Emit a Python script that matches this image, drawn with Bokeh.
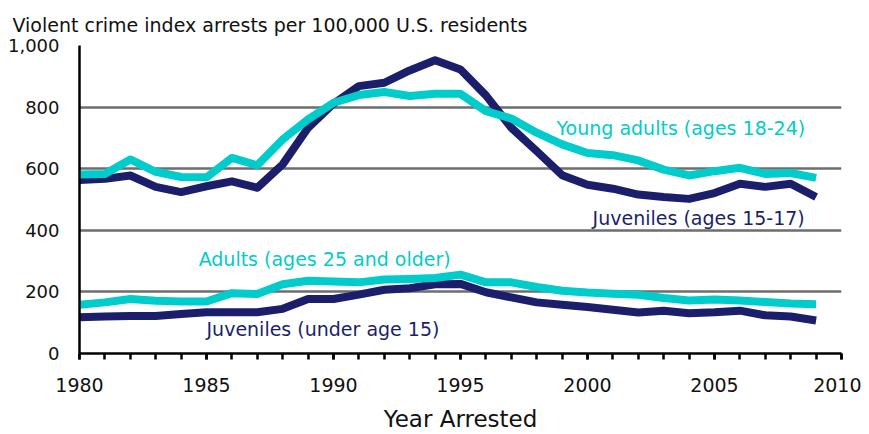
from bokeh.plotting import figure
from bokeh.models import FixedTicker, NumeralTickFormatter, Range1d, Title
from bokeh.core.properties import value
from bokeh.embed import file_html
from bokeh.resources import INLINE

years = list(range(1980, 2010))

juveniles_15_17 = [563, 567, 578, 541, 524, 543, 559, 538, 614, 733, 811, 868, 879, 919, 952,
                   922, 838, 733, 657, 579, 548, 535, 516, 508, 502, 521, 551, 541, 551, 508]
young_adults_18_24 = [581, 583, 630, 590, 573, 572, 635, 611, 695, 760, 814, 839, 849, 836, 843,
                      843, 787, 763, 717, 679, 651, 644, 627, 597, 578, 592, 603, 583, 586, 570]
adults_25_plus = [158, 166, 177, 171, 169, 169, 196, 193, 225, 236, 234, 231, 240, 242, 245,
                  256, 231, 231, 216, 204, 198, 194, 191, 180, 172, 175, 172, 167, 162, 160]
juveniles_under_15 = [118, 120, 122, 122, 128, 134, 134, 134, 145, 177, 177, 191, 207, 212, 225,
                      226, 199, 182, 166, 158, 151, 142, 133, 139, 131, 134, 139, 124, 120, 107]

x_major_ticks = [1980, 1985, 1990, 1995, 2000, 2005, 2010]
y_ticks = [0, 200, 400, 600, 800, 1000]

NAVY = "#1b1f6b"
CYAN = "#00cccc"
FONT = "DejaVu Sans"

p = figure(width=861, height=434, output_backend="svg", toolbar_location=None,
           x_range=Range1d(1980, 2010), y_range=Range1d(0, 1000),
           min_border_left=79, min_border_right=20, min_border_top=45, min_border_bottom=81)
p.outline_line_color = None
p.background_fill_color = "white"

t = Title(text="Violent crime index arrests per 100,000 U.S. residents", align="left",
          offset=-67, text_font=FONT, text_font_size="19px", text_font_style="normal",
          text_color="#111111", standoff=20)
p.add_layout(t, "above")

# grid
p.xgrid.grid_line_color = None
p.ygrid.ticker = FixedTicker(ticks=y_ticks)
p.ygrid.grid_line_color = "#6e6e6e"
p.ygrid.grid_line_width = 2.5

# axes
p.xaxis.ticker = FixedTicker(ticks=x_major_ticks, minor_ticks=list(range(1980, 2011)))
p.xaxis.axis_line_color = "black"
p.xaxis.axis_line_width = 2.5
p.xaxis.major_tick_line_color = "black"
p.xaxis.major_tick_line_width = 2.5
p.xaxis.minor_tick_line_color = "black"
p.xaxis.minor_tick_line_width = 2.5
p.xaxis.major_tick_in = 0
p.xaxis.major_tick_out = 6
p.xaxis.minor_tick_in = 0
p.xaxis.minor_tick_out = 6
p.xaxis.major_label_text_font = FONT
p.xaxis.major_label_text_font_size = "19px"
p.xaxis.major_label_text_color = "#111111"
p.xaxis.major_label_standoff = 18
p.xaxis.axis_label = "Year Arrested"
p.xaxis.axis_label_text_font = FONT
p.xaxis.axis_label_text_font_size = "23px"
p.xaxis.axis_label_text_font_style = "normal"
p.xaxis.axis_label_text_color = "#111111"
p.xaxis.axis_label_standoff = 11

p.yaxis.ticker = FixedTicker(ticks=y_ticks)
p.yaxis.formatter = NumeralTickFormatter(format="0,0")
p.yaxis.axis_line_color = "black"
p.yaxis.axis_line_width = 2.5
p.yaxis.major_tick_out = 0
p.yaxis.major_tick_in = 0
p.yaxis.minor_tick_line_color = None
p.yaxis.major_label_text_font = FONT
p.yaxis.major_label_text_font_size = "18px"
p.yaxis.major_label_text_color = "#111111"
p.yaxis.major_label_standoff = 20

lw = 8
p.line(years, juveniles_15_17, line_color=NAVY, line_width=lw, line_join="round")
p.line(years, juveniles_under_15, line_color=NAVY, line_width=lw, line_join="round")
p.line(years, young_adults_18_24, line_color=CYAN, line_width=lw, line_join="round")
p.line(years, adults_25_plus, line_color=CYAN, line_width=lw, line_join="round")

label_fs = "19px"
p.text(x=[1998.78], y=[732], text=["Young adults (ages 18-24)"], text_color=CYAN,
       text_font=value(FONT), text_font_size=label_fs, text_baseline="middle", text_align="left")
p.text(x=[2000.2], y=[439], text=["Juveniles (ages 15-17)"], text_color=NAVY,
       text_font=value(FONT), text_font_size=label_fs, text_baseline="middle", text_align="left")
p.text(x=[1984.69], y=[306], text=["Adults (ages 25 and older)"], text_color=CYAN,
       text_font=value(FONT), text_font_size=label_fs, text_baseline="middle", text_align="left")
p.text(x=[1985.0], y=[78], text=["Juveniles (under age 15)"], text_color=NAVY,
       text_font=value(FONT), text_font_size=label_fs, text_baseline="middle", text_align="left")

open("out.html", "w").write(file_html(p, INLINE))
